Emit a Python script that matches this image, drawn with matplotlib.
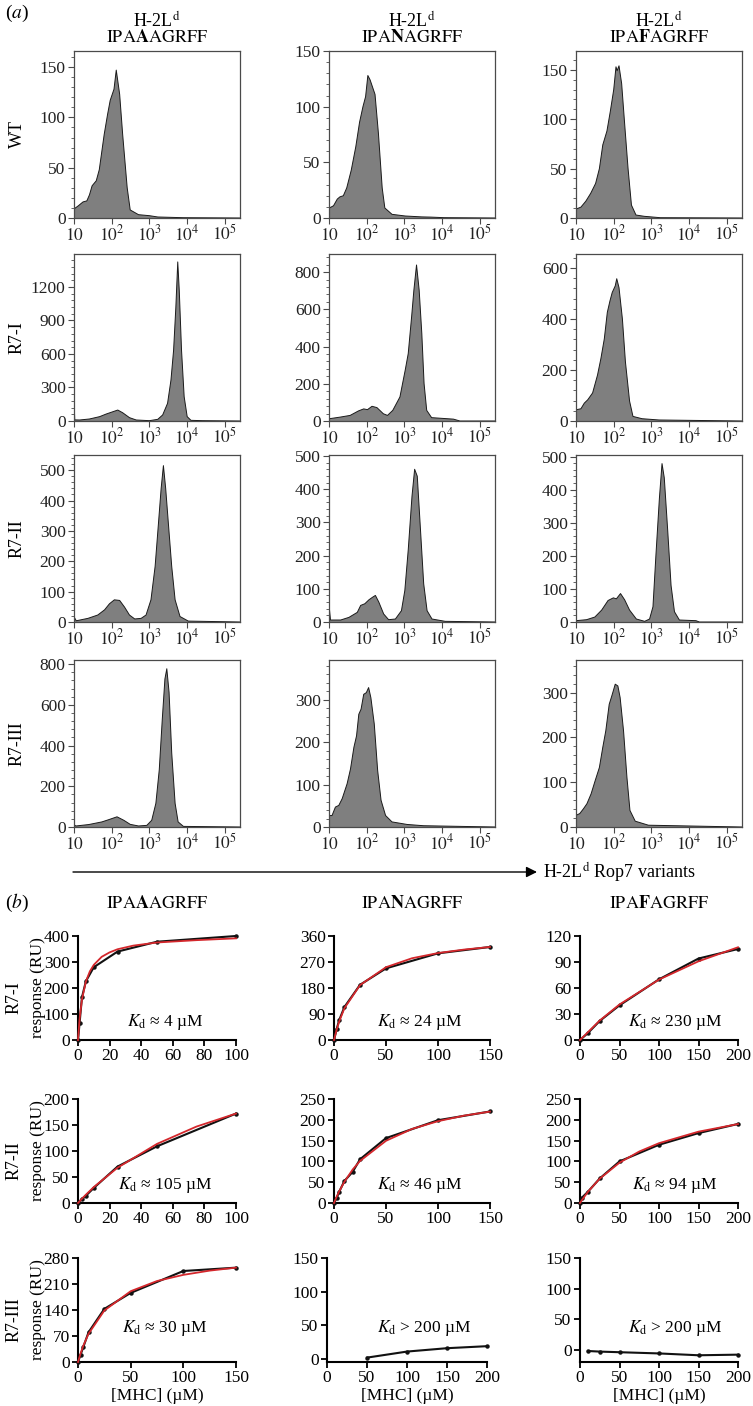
import numpy as np
import matplotlib
matplotlib.use('Agg')
import matplotlib.pyplot as plt
from matplotlib.ticker import AutoMinorLocator, FixedLocator, LogLocator, NullFormatter

plt.rcParams['font.family'] = ['Liberation Serif', 'DejaVu Serif']
plt.rcParams['mathtext.fontset'] = 'stix'

# ---- (a) flow cytometry histograms: log10 intensity / cell count ----
peptides = ['IPAAAGRFF', 'IPANAGRFF', 'IPAFAGRFF']
pep_tex = [r'$\mathrm{IPA}\mathbf{A}\mathrm{AGRFF}$',
           r'$\mathrm{IPA}\mathbf{N}\mathrm{AGRFF}$',
           r'$\mathrm{IPA}\mathbf{F}\mathrm{AGRFF}$']
rows_a = ['WT', 'R7-I', 'R7-II', 'R7-III']

wt_A_lx = [1.0, 1.11, 1.24, 1.34, 1.41, 1.48, 1.59, 1.67, 1.80, 1.89, 1.96, 2.06, 2.12, 2.21, 2.29, 2.41, 2.49, 2.71, 3.0, 3.22, 3.9, 5.4]
wt_A_n = [9, 12, 16, 17, 23, 32, 37, 48, 83, 103, 117, 128, 147, 123, 83, 30, 8, 3.3, 2.3, 1, 0.3, 0]
wt_N_lx = [1.0, 1.01, 1.12, 1.22, 1.29, 1.38, 1.47, 1.59, 1.71, 1.81, 1.90, 1.97, 2.03, 2.09, 2.16, 2.22, 2.31, 2.41, 2.48, 2.67, 3.02, 3.45, 3.7, 4.05, 5.4]
wt_N_n = [28, 9, 11, 17, 19, 20, 27, 43, 64, 86, 100, 109, 128, 124, 117, 111, 76, 27, 9, 3.3, 1.8, 1, 0.8, 0.3, 0]
wt_F_lx = [1.0, 1.13, 1.26, 1.39, 1.52, 1.62, 1.71, 1.82, 1.91, 2.0, 2.06, 2.09, 2.14, 2.21, 2.29, 2.38, 2.47, 2.59, 2.81, 3.24, 5.4]
wt_F_n = [9, 11, 17, 25, 35, 50, 74, 88, 108, 130, 153, 149, 154, 136, 95, 50, 13, 3, 1.7, 0.3, 0]

r7i_A_lx = [1.0, 1.02, 1.15, 1.41, 1.68, 1.85, 2.03, 2.16, 2.29, 2.47, 2.65, 3.0, 3.22, 3.35, 3.48, 3.57, 3.64, 3.70, 3.75, 3.79, 3.85, 3.92, 4.0, 4.1, 4.4, 5.4]
r7i_A_n = [188, 10, 9, 18, 39, 62, 83, 98, 74, 30, 9, 3, 15, 54, 158, 366, 634, 1021, 1424, 1170, 634, 217, 39, 6, 3, 0]
r7i_N_lx = [1.0, 1.3, 1.56, 1.78, 1.92, 2.02, 2.14, 2.27, 2.44, 2.55, 2.69, 2.88, 3.02, 3.10, 3.19, 3.25, 3.32, 3.39, 3.46, 3.52, 3.59, 3.72, 4.3, 4.47, 5.4]
r7i_N_n = [12, 21, 30, 54, 65, 61, 79, 72, 39, 30, 57, 129, 273, 362, 560, 703, 838, 703, 470, 201, 57, 18, 10, 0, 0]
r7i_F_lx = [1.0, 1.13, 1.22, 1.31, 1.44, 1.57, 1.66, 1.75, 1.83, 1.90, 1.96, 2.04, 2.08, 2.14, 2.23, 2.31, 2.42, 2.51, 2.75, 3.2, 5.4]
r7i_F_n = [44, 48, 70, 83, 110, 180, 245, 322, 426, 471, 504, 530, 558, 523, 400, 232, 78, 18, 9, 4, 0]

r7ii_A_lx = [1.0, 1.01, 1.06, 1.37, 1.63, 1.81, 1.94, 2.07, 2.21, 2.34, 2.47, 2.61, 2.78, 2.91, 3.04, 3.15, 3.24, 3.31, 3.37, 3.43, 3.5, 3.59, 3.68, 3.81, 4.03, 5.4]
r7ii_A_n = [30, 15, 4, 12, 23, 40, 60, 73, 71, 49, 23, 10, 12, 23, 73, 183, 327, 440, 515, 440, 327, 183, 73, 18, 3, 0]
r7ii_N_lx = [1.0, 1.01, 1.04, 1.31, 1.53, 1.75, 1.84, 1.95, 2.06, 2.16, 2.23, 2.32, 2.45, 2.58, 2.76, 2.92, 3.01, 3.10, 3.20, 3.27, 3.34, 3.42, 3.51, 3.60, 3.73, 4.08, 5.4]
r7ii_N_n = [136, 40, 6, 6, 14, 29, 50, 55, 67, 75, 80, 60, 24, 7, 9, 34, 95, 217, 379, 460, 439, 287, 115, 34, 9, 2, 0]
r7ii_F_lx = [1.0, 1.28, 1.5, 1.68, 1.85, 1.99, 2.07, 2.18, 2.29, 2.42, 2.60, 2.82, 2.95, 3.04, 3.12, 3.21, 3.28, 3.34, 3.43, 3.52, 3.61, 3.74, 4.18, 4.27, 5.4]
r7ii_F_n = [4, 7, 15, 36, 65, 73, 70, 86, 67, 36, 9, 2, 9, 46, 205, 373, 479, 436, 278, 110, 31, 6, 4, 0, 0]

r7iii_A_lx = [1.0, 1.01, 1.05, 1.39, 1.74, 1.92, 2.14, 2.32, 2.49, 2.71, 2.93, 3.06, 3.17, 3.26, 3.34, 3.41, 3.46, 3.52, 3.59, 3.68, 3.76, 3.9, 5.4]
r7iii_A_n = [25, 10, 5, 12, 25, 36, 50, 33, 13, 5, 8, 33, 116, 281, 529, 727, 777, 661, 364, 116, 25, 3, 0]
r7iii_N_lx = [1.0, 1.08, 1.17, 1.26, 1.35, 1.48, 1.57, 1.66, 1.73, 1.79, 1.85, 1.92, 1.99, 2.05, 2.11, 2.20, 2.29, 2.38, 2.50, 2.67, 3.07, 3.51, 5.4]
r7iii_N_n = [27, 27, 47, 51, 67, 102, 137, 188, 215, 266, 278, 313, 317, 329, 305, 243, 133, 63, 27, 12, 6, 3, 0]
r7iii_F_lx = [1.0, 1.10, 1.2, 1.29, 1.40, 1.51, 1.62, 1.71, 1.79, 1.88, 1.95, 2.04, 2.11, 2.17, 2.26, 2.35, 2.43, 2.57, 2.92, 5.4]
r7iii_F_n = [26, 30, 41, 52, 74, 104, 133, 178, 215, 274, 293, 319, 315, 289, 215, 111, 37, 13, 4, 0]

hists = [[(wt_A_lx, wt_A_n), (wt_N_lx, wt_N_n), (wt_F_lx, wt_F_n)],
         [(r7i_A_lx, r7i_A_n), (r7i_N_lx, r7i_N_n), (r7i_F_lx, r7i_F_n)],
         [(r7ii_A_lx, r7ii_A_n), (r7ii_N_lx, r7ii_N_n), (r7ii_F_lx, r7ii_F_n)],
         [(r7iii_A_lx, r7iii_A_n), (r7iii_N_lx, r7iii_N_n), (r7iii_F_lx, r7iii_F_n)]]
hist_ymax = [[166, 150, 169], [1495, 897, 655], [550, 503, 505], [820, 394, 373]]
hist_yticks = [[[0, 50, 100, 150]] * 3,
               [[0, 300, 600, 900, 1200], [0, 200, 400, 600, 800], [0, 200, 400, 600]],
               [[0, 100, 200, 300, 400, 500]] * 3,
               [[0, 200, 400, 600, 800], [0, 100, 200, 300], [0, 100, 200, 300]]]
decades = [1e1, 1e2, 1e3, 1e4, 1e5]
decade_labels = ['$10$', '$10^2$', '$10^3$', '$10^4$', '$10^5$']

# ---- (b) SPR binding: [MHC] uM / response RU ----
rows_b = ['R7-I', 'R7-II', 'R7-III']
r7i_A_x = [0, 1, 2.5, 5, 10, 25, 50, 100]
r7i_A_y = [0, 65, 164, 226, 280, 340, 378, 400]
r7i_A_fx = [0, 1, 2.5, 5, 7.5, 10, 15, 20, 25, 35, 50, 75, 100]
r7i_A_fy = [0, 81, 156, 225, 264, 289, 320, 337, 349, 363, 375, 384, 391]
r7i_N_x = [0, 2.5, 5, 10, 25, 50, 100, 150]
r7i_N_y = [0, 37, 69, 114, 191, 248, 300, 322]
r7i_N_fx = [0, 2.5, 5, 10, 25, 50, 75, 100, 125, 150]
r7i_N_fy = [0, 35, 64, 110, 190, 252, 283, 301, 313, 322]
r7i_F_x = [0, 10, 25, 50, 100, 150, 200]
r7i_F_y = [0, 8, 22, 40, 70, 94, 105]
r7i_F_fx = [0, 25, 50, 100, 150, 200]
r7i_F_fy = [0, 22.5, 41, 69.7, 90.8, 107]

r7ii_A_x = [0, 2.5, 5, 10, 25, 50, 100]
r7ii_A_y = [0, 8, 14, 29, 70, 109, 172]
r7ii_A_fx = [0, 2.5, 5, 10, 25, 50, 75, 100]
r7ii_A_fy = [0, 8.2, 16, 30.7, 67.8, 113.7, 147, 172]
r7ii_N_x = [0, 2.5, 5, 10, 18, 25, 50, 100, 150]
r7ii_N_y = [0, 12, 27, 53, 75, 105, 156, 199, 220]
r7ii_N_fx = [0, 2.5, 5, 10, 18, 25, 50, 75, 100, 125, 150]
r7ii_N_fy = [0, 14.8, 28, 51, 80.7, 101, 149.5, 178, 196.6, 210, 219.7]
r7ii_F_x = [0, 2.5, 10, 25, 50, 100, 150, 200]
r7ii_F_y = [0, 13, 27, 59, 100, 140, 168, 190]
r7ii_F_fx = [0, 2.5, 10, 25, 50, 75, 100, 150, 200]
r7ii_F_fy = [0, 7.2, 26.8, 58.6, 96.9, 123.8, 143.8, 171.5, 189.8]

r7iii_A_x = [0, 2.5, 5, 10, 25, 50, 100, 150]
r7iii_A_y = [0, 20, 40, 80, 143, 186, 245, 254]
r7iii_A_fx = [0, 2.5, 5, 10, 25, 50, 75, 100, 125, 150]
r7iii_A_fy = [0, 23.5, 43.6, 76, 138.6, 190.6, 218, 234.6, 246, 254]
r7iii_N_x = [50, 100, 150, 200]
r7iii_N_y = [2, 11, 16, 19]
r7iii_F_x = [10, 25, 50, 100, 150, 200]
r7iii_F_y = [-2, -3, -4, -6, -9, -8]

spr = [[(r7i_A_x, r7i_A_y, r7i_A_fx, r7i_A_fy), (r7i_N_x, r7i_N_y, r7i_N_fx, r7i_N_fy), (r7i_F_x, r7i_F_y, r7i_F_fx, r7i_F_fy)],
       [(r7ii_A_x, r7ii_A_y, r7ii_A_fx, r7ii_A_fy), (r7ii_N_x, r7ii_N_y, r7ii_N_fx, r7ii_N_fy), (r7ii_F_x, r7ii_F_y, r7ii_F_fx, r7ii_F_fy)],
       [(r7iii_A_x, r7iii_A_y, r7iii_A_fx, r7iii_A_fy), (r7iii_N_x, r7iii_N_y, None, None), (r7iii_F_x, r7iii_F_y, None, None)]]
kd_text = [['≈ 4', '≈ 24', '≈ 230'], ['≈ 105', '≈ 46', '≈ 94'], ['≈ 30', '> 200', '> 200']]
spr_ylim = [[(0, 400), (0, 360), (0, 120)], [(0, 200), (0, 250), (0, 250)], [(0, 280), (-4.5, 150), (-20, 150)]]
spr_ystep = [[100, 90, 30], [50, 50, 50], [70, 50, 50]]
spr_xmax = [[100, 150, 200], [100, 150, 200], [150, 200, 200]]
spr_xstep = [[20, 50, 50], [20, 50, 50], [50, 50, 50]]

W, H = 753, 1406
fig = plt.figure(figsize=(W / 100, H / 100), dpi=100)


def box(l, t, w, h):
    return fig.add_axes([l / W, 1 - (t + h) / H, w / W, h / H])


# (a) layout in pixels
a_left = [74, 329, 576]
a_top = [51, 254, 455, 660]
a_w, a_h = 166, 167
edge = '#4a4a4a'
for r in range(4):
    for c in range(3):
        ax = box(a_left[c], a_top[r], a_w, a_h)
        lx, n = hists[r][c]
        xs = 10 ** np.array(lx)
        ax.fill_between(xs, n, 0, facecolor='#7f7f7f', edgecolor='none')
        ax.plot(xs, n, color='#1a1a1a', lw=0.7)
        ax.set_xscale('log')
        ax.set_xlim(10, 10 ** 5.4)
        ax.set_ylim(0, hist_ymax[r][c])
        ax.xaxis.set_major_locator(FixedLocator(decades))
        ax.xaxis.set_minor_locator(LogLocator(base=10, subs=np.arange(2, 10)))
        ax.xaxis.set_minor_formatter(NullFormatter())
        ax.set_xticklabels(decade_labels, va='baseline')
        ax.set_yticks(hist_yticks[r][c])
        ax.yaxis.set_minor_locator(AutoMinorLocator(5))
        for s in ax.spines.values():
            s.set_color(edge)
            s.set_linewidth(0.9)
        ax.tick_params(which='major', length=4, width=0.8, color=edge, labelsize=12.5, labelcolor='#222')
        ax.tick_params(which='minor', length=2, width=0.6, color=edge)
        ax.tick_params(axis='x', which='major', pad=12)
        ax.tick_params(axis='y', which='major', pad=2)

# (b) layout in pixels
b_left = [[78, 334, 580], [78, 334, 580], [78, 327, 580]]
b_w = [[158, 156, 158], [158, 156, 158], [158, 160, 158]]
b_top = [936, 1099, 1258]
b_h = 104
kd_pos = [[(0.55, 0.17), (0.55, 0.17), (0.6, 0.17)],
          [(0.55, 0.17), (0.55, 0.17), (0.6, 0.17)],
          [(0.55, 0.33), (0.61, 0.33), (0.6, 0.33)]]
for r in range(3):
    for c in range(3):
        ax = box(b_left[r][c], b_top[r], b_w[r][c], b_h)
        x, y, fx, fy = spr[r][c]
        ax.plot(x, y, color='#111111', lw=1.5, marker='o', ms=2.2, clip_on=False, zorder=3)
        if fx is not None:
            ax.plot(fx, fy, color='#d4272c', lw=1.3, clip_on=False, zorder=4)
        ax.set_xlim(0, spr_xmax[r][c])
        ax.set_ylim(*spr_ylim[r][c])
        ax.set_xticks(np.arange(0, spr_xmax[r][c] + 1, spr_xstep[r][c]))
        ax.set_yticks(np.arange(0, spr_ylim[r][c][1] + 1, spr_ystep[r][c]))
        ax.spines['top'].set_visible(False)
        ax.spines['right'].set_visible(False)
        for s in ['left', 'bottom']:
            ax.spines[s].set_linewidth(1.5)
        ax.tick_params(length=4, width=1.3, labelsize=12.5, pad=2)
        ax.patch.set_alpha(0)
        ax.text(kd_pos[r][c][0], kd_pos[r][c][1], r'$K_{\rm d}$' + ' ' + kd_text[r][c] + ' µM',
                transform=ax.transAxes, ha='center', va='center', fontsize=12.5)
        if r == 2:
            ax.set_xlabel('[MHC] (µM)', fontsize=12.5, labelpad=1)

# overlay for labels and arrow, pixel coordinates
ov = fig.add_axes([0, 0, 1, 1])
ov.set_xlim(0, W)
ov.set_ylim(H, 0)
ov.axis('off')
ov.text(17, 13, r'($a$)', fontsize=14, ha='center', va='center')
ov.text(17, 903, r'($b$)', fontsize=14, ha='center', va='center')
for c in range(3):
    cx = a_left[c] + a_w / 2
    ov.text(cx, 21, r'H-2L$^{\rm d}$', fontsize=13, ha='center', va='center')
    ov.text(cx, 37, pep_tex[c], fontsize=13, ha='center', va='center')
    bx = b_left[0][c] + b_w[0][c] / 2
    ov.text(bx, 903, pep_tex[c], fontsize=13, ha='center', va='center')
for r in range(4):
    ov.text(17, a_top[r] + a_h / 2, rows_a[r], fontsize=13, rotation=90, ha='center', va='center')
for r in range(3):
    ov.text(14, b_top[r] + b_h / 2 + 10, rows_b[r], fontsize=13, rotation=90, ha='center', va='center')
    ov.text(38, b_top[r] + b_h / 2, 'response (RU)', fontsize=12.5, rotation=90, ha='center', va='center')
ov.annotate('', xy=(537, 872), xytext=(73, 872),
            arrowprops=dict(arrowstyle='-|>', color='k', lw=1.0, mutation_scale=16, shrinkA=0, shrinkB=0))
ov.text(543, 872, r'H-2L$^{\rm d}$ Rop7 variants', fontsize=13, ha='left', va='center')

fig.savefig('out.png', dpi=100)
